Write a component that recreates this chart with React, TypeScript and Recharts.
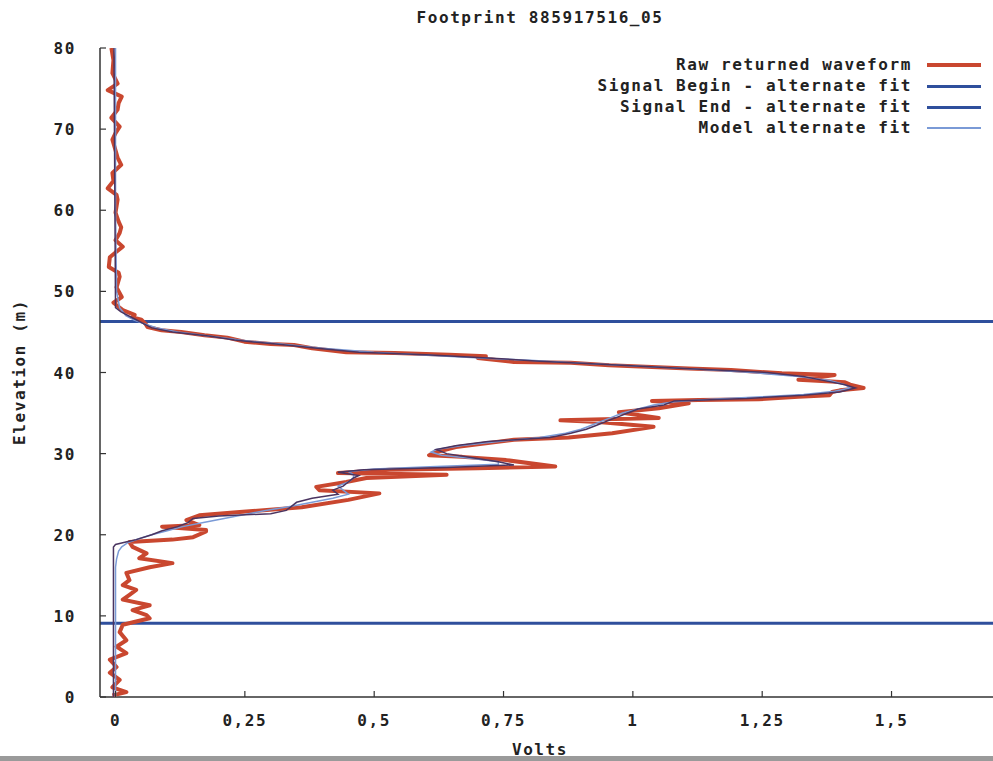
import React from "react";
import { ScatterChart, Scatter, XAxis, YAxis, ReferenceLine } from "recharts";

// Raw returned waveform, read top (80 m) to bottom (0 m)
const rawElevation = [
  80.0, 78.5, 76.9, 75.6, 74.8, 74.0, 73.2, 72.4, 71.4, 70.3, 69.5, 68.7, 67.4, 66.5, 65.6, 64.6,
  63.6, 62.7, 61.9, 61.3, 59.7, 58.6, 57.9, 57.2, 56.3, 55.5, 54.8, 54.2, 53.0, 52.3, 51.8, 50.5,
  49.3, 48.6, 47.7, 47.1, 46.8, 46.5, 46.0, 45.6, 45.2, 45.0, 44.6, 44.3, 43.8, 43.5, 43.4, 43.0,
  42.5, 42.4, 42.2, 42.0, 41.8, 41.3, 41.2, 40.9, 40.5, 40.3, 39.9, 39.7, 39.4, 39.1, 38.8, 38.5,
  38.1, 37.8, 37.6, 37.2, 37.0, 36.7, 36.6, 36.5, 36.2, 35.6, 35.1, 34.4, 34.1, 33.9, 33.3, 32.5,
  32.0, 31.7, 30.8, 30.2, 29.8, 29.6, 29.2, 28.4, 28.2, 28.0, 27.6, 27.4, 27.0, 26.5, 25.9, 25.5,
  25.1, 24.3, 23.4, 22.8, 22.4, 21.8, 21.2, 21.0, 20.6, 20.4, 19.7, 19.4, 19.1, 18.5, 17.7, 17.1,
  16.5, 16.0, 15.3, 14.4, 13.8, 13.2, 12.6, 12.0, 11.3, 10.7, 10.1, 9.7, 8.9, 8.0, 7.0, 6.2,
  5.4, 4.6, 3.7, 3.0, 2.1, 1.2, 0.6, 0.2,
];
const rawVolts = [
  -0.008, -0.004, -0.006, 0.004, -0.015, 0.012, 0.006, 0.004, -0.008, 0.008, 0.0, -0.006, 0.0, 0.004, 0.011, -0.006,
  -0.004, -0.015, 0.002, 0.004, 0.0, 0.006, 0.011, 0.008, 0.0, 0.014, 0.0, -0.011, -0.013, 0.006, 0.008, 0.002,
  0.012, -0.004, 0.014, 0.037, 0.033, 0.05, 0.058, 0.062, 0.089, 0.127, 0.172, 0.216, 0.249, 0.3, 0.345, 0.38,
  0.446, 0.54, 0.645, 0.716, 0.7, 0.77, 0.88, 0.954, 1.108, 1.19, 1.288, 1.39, 1.36, 1.32, 1.41, 1.42,
  1.446, 1.4, 1.385, 1.38, 1.32, 1.243, 1.127, 1.037, 1.108, 1.05, 0.973, 1.05, 0.86, 0.934, 1.04, 0.96,
  0.876, 0.77, 0.658, 0.62, 0.606, 0.67, 0.755, 0.85, 0.7, 0.53, 0.43, 0.64, 0.485, 0.446, 0.388, 0.394,
  0.51, 0.45, 0.36, 0.24, 0.162, 0.137, 0.162, 0.09, 0.175, 0.175, 0.15, 0.11, 0.027, 0.033, 0.06, 0.046,
  0.11, 0.066, 0.021, 0.027, 0.014, 0.04, 0.027, 0.014, 0.066, 0.033, 0.06, 0.066, 0.014, 0.008, 0.021, 0.002,
  0.021, -0.011, 0.002, -0.011, 0.008, -0.006, 0.021, -0.006,
];

// dark smoothed trace drawn inside the raw waveform (no legend entry)
const smoothElevation = [
  80, 48, 47.5, 47, 46.5, 46, 45.5, 45, 44.5, 44, 43.5, 43, 42.5, 42.2, 41.8, 41.4, 41, 40.5, 40, 39.5,
  39, 38.5, 38.1, 37.6, 37.2, 36.8, 36.5, 36, 35.5, 35, 34.5, 34, 33.5, 33, 32.5, 32, 31.5, 31, 30.5, 30,
  29.5, 29, 28.6, 28.3, 28.0, 27.7, 27.3, 27, 26.5, 26, 25.5, 25, 24.5, 24, 23.5, 23, 22.6, 22.3, 22, 21.5,
  21, 20.5, 20, 19.4, 19.1, 18.8, 18.5, 0,
];
const smoothVolts = [
  -0.003, 0.0, 0.01, 0.025, 0.04, 0.055, 0.07, 0.11, 0.18, 0.23, 0.31, 0.39, 0.47, 0.6, 0.72, 0.82, 0.95, 1.1, 1.26, 1.33,
  1.37, 1.41, 1.43, 1.4, 1.33, 1.22, 1.08, 1.06, 1.01, 0.99, 0.97, 0.95, 0.93, 0.91, 0.88, 0.84, 0.72, 0.66, 0.62, 0.64,
  0.69, 0.74, 0.77, 0.64, 0.48, 0.43, 0.47, 0.46, 0.45, 0.44, 0.42, 0.43, 0.38, 0.35, 0.34, 0.33, 0.3, 0.2, 0.15, 0.14,
  0.12, 0.09, 0.07, 0.04, 0.02, 0.0, -0.004, -0.004,
];

// Model alternate fit
const modelElevation = [
  80, 60, 50, 48, 47, 46.5, 46, 45.5, 45, 44.5, 44, 43.5, 43, 42.5, 42, 41.5, 41, 40.5, 40, 39.5,
  39, 38.5, 38.1, 37.7, 37.3, 37, 36.7, 36.4, 36, 35.5, 35, 34.5, 34, 33.5, 33, 32.5, 32, 31.5, 31, 30.5,
  30.2, 29.8, 29.4, 29, 28.7, 28.4, 28.1, 27.8, 27.4, 27, 26.5, 26, 25.5, 25, 24.5, 24, 23.5, 23, 22.5, 22,
  21.5, 21, 20.5, 20, 19.5, 19, 18.5, 18, 17, 16, 0,
];
const modelVolts = [
  0, 0, 0.002, 0.008, 0.02, 0.035, 0.055, 0.08, 0.12, 0.18, 0.24, 0.32, 0.4, 0.5, 0.64, 0.8, 0.95, 1.1, 1.23, 1.32,
  1.38, 1.41, 1.42, 1.39, 1.33, 1.25, 1.15, 1.08, 1.04, 1.01, 0.98, 0.96, 0.94, 0.92, 0.9, 0.87, 0.82, 0.74, 0.67, 0.62,
  0.61, 0.63, 0.69, 0.74, 0.74, 0.62, 0.5, 0.45, 0.46, 0.46, 0.45, 0.43, 0.44, 0.45, 0.42, 0.38, 0.34, 0.29, 0.25, 0.21,
  0.17, 0.13, 0.1, 0.07, 0.045, 0.023, 0.012, 0.006, 0.002, 0, 0,
];

const signalBeginElevation = 46.3;
const signalEndElevation = 9.1;

const xTicks = [0, 0.25, 0.5, 0.75, 1, 1.25, 1.5];
const yTicks = [0, 10, 20, 30, 40, 50, 60, 70, 80];

const legendItems = [
  { label: "Raw returned waveform", color: "#c9472f", width: 4 },
  { label: "Signal Begin - alternate fit", color: "#2f4f9c", width: 3 },
  { label: "Signal End - alternate fit", color: "#2f4f9c", width: 3 },
  { label: "Model alternate fit", color: "#7a9ad6", width: 1.5 },
];

const toPoints = (elev: number[], volts: number[]) =>
  elev.map((e, i) => ({ v: volts[i], e }));

const rawData = toPoints(rawElevation, rawVolts);
const smoothData = toPoints(smoothElevation, smoothVolts);
const modelData = toPoints(modelElevation, modelVolts);

const FONT = "'DejaVu Sans Mono', 'Liberation Mono', monospace";
const textStyle: React.CSSProperties = {
  fontFamily: FONT,
  fontWeight: "bold",
  fontSize: 16,
  letterSpacing: 1.6,
  color: "#222",
};

const fmtX = (v: number) => String(v).replace(".", ",");

function BottomTick(props: any) {
  const { x, y, payload } = props;
  return (
    <g>
      <line x1={x} x2={x} y1={y} y2={y - 6} stroke="#333" strokeWidth={1.2} />
      <text
        x={x}
        y={y + 29}
        textAnchor="middle"
        fill="#222"
        style={{ fontFamily: FONT, fontWeight: "bold", fontSize: 16, letterSpacing: 1.6 }}
      >
        {fmtX(payload.value)}
      </text>
    </g>
  );
}

function TopTick(props: any) {
  const { x, y } = props;
  return <line x1={x} x2={x} y1={y} y2={y + 6} stroke="#333" strokeWidth={1.2} />;
}

function LeftTick(props: any) {
  const { x, y, payload } = props;
  return (
    <g>
      <line x1={x} x2={x + 6} y1={y} y2={y} stroke="#333" strokeWidth={1.2} />
      <text
        x={x - 24}
        y={y + 6}
        textAnchor="end"
        fill="#222"
        style={{ fontFamily: FONT, fontWeight: "bold", fontSize: 16, letterSpacing: 1.6 }}
      >
        {payload.value}
      </text>
    </g>
  );
}

const noDot = () => <g />;

export default function App() {
  return (
    <div
      style={{
        position: "absolute",
        left: 0,
        top: 0,
        width: 993,
        height: 761,
        overflow: "hidden",
        background: "#fff",
      }}
    >
      <div style={{ ...textStyle, position: "absolute", top: 8, left: 0, width: 1080, textAlign: "center", lineHeight: "20px" }}>
        Footprint 885917516_05
      </div>

      <ScatterChart width={1005} height={761} margin={{ top: 48, right: 10, bottom: 0, left: 0 }}>
        <XAxis
          xAxisId="bottom"
          type="number"
          dataKey="v"
          domain={[-0.03, 1.7]}
          allowDataOverflow
          ticks={xTicks}
          tick={<BottomTick />}
          tickLine={false}
          tickSize={0}
          tickMargin={0}
          height={64}
          axisLine={{ stroke: "#333", strokeWidth: 1.5 }}
          interval={0}
        />
        <XAxis
          xAxisId="top"
          orientation="top"
          type="number"
          dataKey="v"
          domain={[-0.03, 1.7]}
          allowDataOverflow
          ticks={xTicks}
          tick={<TopTick />}
          tickLine={false}
          tickSize={0}
          tickMargin={0}
          height={0}
          axisLine={{ stroke: "#333", strokeWidth: 1.5 }}
          interval={0}
        />
        <YAxis
          type="number"
          dataKey="e"
          domain={[0, 80]}
          allowDataOverflow
          ticks={yTicks}
          tick={<LeftTick />}
          tickLine={false}
          tickSize={0}
          tickMargin={0}
          width={100}
          axisLine={{ stroke: "#333", strokeWidth: 1.5 }}
          interval={0}
        />
        <ReferenceLine xAxisId="bottom" y={signalBeginElevation} stroke="#2f4f9c" strokeWidth={3} />
        <ReferenceLine xAxisId="bottom" y={signalEndElevation} stroke="#2f4f9c" strokeWidth={3} />
        <Scatter
          xAxisId="bottom"
          data={rawData}
          line={{ stroke: "#c9472f", strokeWidth: 4, strokeLinejoin: "round" }}
          lineJointType="linear"
          shape={noDot}
          isAnimationActive={false}
        />
        <Scatter
          xAxisId="bottom"
          data={modelData}
          line={{ stroke: "#7a9ad6", strokeWidth: 1.5 }}
          lineJointType="linear"
          shape={noDot}
          isAnimationActive={false}
        />
        <Scatter
          xAxisId="bottom"
          data={smoothData}
          line={{ stroke: "#4a3460", strokeWidth: 1.5 }}
          lineJointType="linear"
          shape={noDot}
          isAnimationActive={false}
        />
      </ScatterChart>

      {legendItems.map((item, i) => (
        <div
          key={item.label}
          style={{ position: "absolute", top: 55 + i * 21, left: 400, width: 590, height: 20 }}
        >
          <div style={{ ...textStyle, position: "absolute", right: 78, top: 0, lineHeight: "20px", whiteSpace: "pre" }}>
            {item.label}
          </div>
          <div
            style={{
              position: "absolute",
              left: 527,
              width: 54,
              top: 10 - item.width / 2,
              height: item.width,
              background: item.color,
            }}
          />
        </div>
      ))}

      <div
        style={{
          ...textStyle,
          position: "absolute",
          left: 20,
          top: 372,
          transform: "translate(-50%, -50%) rotate(-90deg)",
          whiteSpace: "pre",
          lineHeight: "20px",
        }}
      >
        Elevation (m)
      </div>
      <div style={{ ...textStyle, position: "absolute", top: 740, left: 0, width: 1080, textAlign: "center", lineHeight: "20px" }}>
        Volts
      </div>
      <div style={{ position: "absolute", left: 0, top: 756, width: 993, height: 5, background: "#9a9a9a" }} />
    </div>
  );
}
